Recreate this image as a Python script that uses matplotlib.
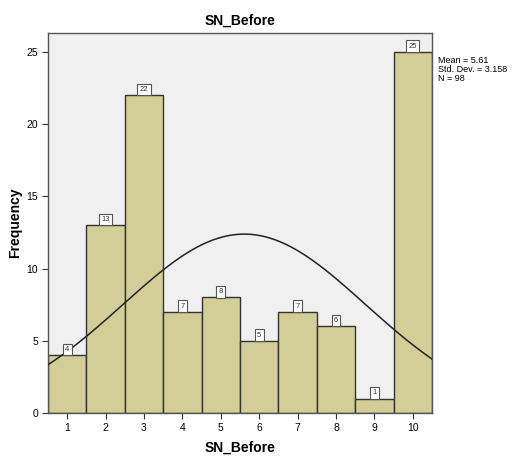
import numpy as np
import matplotlib
matplotlib.use("Agg")
import matplotlib.pyplot as plt

# SPSS histogram of SN_Before with normal curve
values = [1, 2, 3, 4, 5, 6, 7, 8, 9, 10]
counts = [4, 13, 22, 7, 8, 5, 7, 6, 1, 25]
mean = 5.61
std_dev = 3.158
n_obs = 98
y_ticks = [0, 5, 10, 15, 20, 25]

BAR_COLOR = "#D3CE97"
EDGE = "#333333"
BG = "#F0F0F0"

plt.rcParams["font.family"] = ["Liberation Sans", "DejaVu Sans"]

fig = plt.figure(figsize=(5.19, 4.59), dpi=100)
ax = fig.add_axes([0.0925, 0.1002, 0.740, 0.828])
ax.set_facecolor(BG)

ax.bar(values, counts, width=1.0, color=BAR_COLOR, edgecolor=EDGE, linewidth=1.0, zorder=2)

for v, c in zip(values, counts):
    ax.text(v, c + 0.15, str(c), ha="center", va="bottom", fontsize=5.5,
            color="#333333", zorder=4,
            bbox=dict(boxstyle="square,pad=0.3", fc="white", ec="#555555", lw=0.8))

# fitted normal curve scaled to counts (bin width 1)
xs = np.linspace(0.5, 10.5, 300)
ys = n_obs * 1.0 / (std_dev * np.sqrt(2 * np.pi)) * np.exp(-(xs - mean) ** 2 / (2 * std_dev ** 2))
ax.plot(xs, ys, color="#222222", linewidth=1.1, zorder=3)

ax.set_xlim(0.5, 10.5)
ax.set_ylim(0, 26.3)
ax.set_xticks(values)
ax.set_yticks(y_ticks)
ax.tick_params(axis="both", labelsize=7.5, length=4, width=0.8, color="#333333",
               direction="out", pad=3)
for s in ax.spines.values():
    s.set_color("#555555")
    s.set_linewidth(1.0)

ax.set_title("SN_Before", fontsize=10, fontweight="bold", pad=6)
ax.set_xlabel("SN_Before", fontsize=10, fontweight="bold")
ax.set_ylabel("Frequency", fontsize=10, fontweight="bold")
ax.xaxis.set_label_coords(0.5, -0.072)
ax.yaxis.set_label_coords(-0.068, 0.5)

fig.text(0.844, 0.878, f"Mean = {mean}\nStd. Dev. = {std_dev}\nN = {n_obs}",
         fontsize=6.5, va="top", ha="left", linespacing=1.0)

fig.savefig("out.png", dpi=100)
